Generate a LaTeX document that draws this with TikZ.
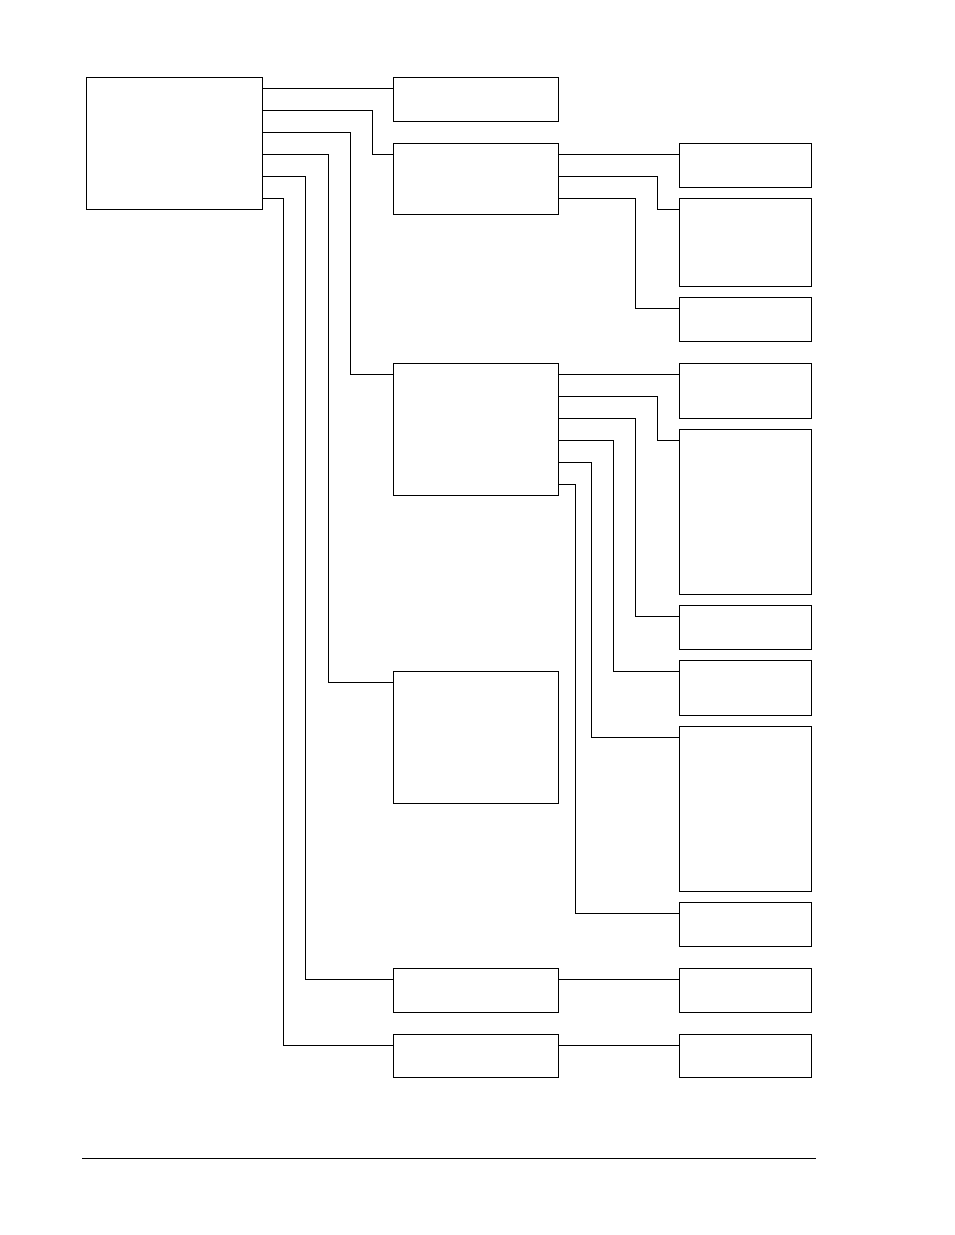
\documentclass[tikz,border=0pt]{standalone}
\usetikzlibrary{calc}
\tikzset{
  box/.style={draw=black,line width=0.9pt,inner sep=0pt,outer sep=0pt,fill=white},
  wire/.style={draw=black,line width=0.9pt,line join=miter},
}
\newcommand\bx[5]{\node[box,minimum width={(#4-#2)*1pt},minimum height={(#5-#3)*1pt}] (#1) at ({(#2+#4)/2},{(#3+#5)/2}) {};
  \coordinate (#1-in) at ($(#1.north west)+(0,11)$);
  \coordinate (#1-out) at ($(#1.north east)+(0,11)$);}
\begin{document}
\begin{tikzpicture}[x=1pt,y=-1pt]
\useasboundingbox (0,0) rectangle (954,1235);
\bx{main}{86}{77}{262}{209}
\bx{A}{393}{77}{558}{121}
\bx{B}{393}{143}{558}{214}
\bx{B1}{679}{143}{811}{187}
\bx{B2}{679}{198}{811}{286}
\bx{B3}{679}{297}{811}{341}
\bx{C}{393}{363}{558}{495}
\bx{C1}{679}{363}{811}{418}
\bx{C2}{679}{429}{811}{594}
\bx{C3}{679}{605}{811}{649}
\bx{C4}{679}{660}{811}{715}
\bx{C5}{679}{726}{811}{891}
\bx{C6}{679}{902}{811}{946}
\bx{D}{393}{671}{558}{803}
\bx{E}{393}{968}{558}{1012}
\bx{E1}{679}{968}{811}{1012}
\bx{F}{393}{1034}{558}{1077}
\bx{F1}{679}{1034}{811}{1077}
% ports
\coordinate (m2) at ($(main-out)+(0,22)$);
\coordinate (m3) at ($(main-out)+(0,44)$);
\coordinate (m4) at ($(main-out)+(0,66)$);
\coordinate (m5) at ($(main-out)+(0,88)$);
\coordinate (m6) at ($(main-out)+(0,110)$);
\coordinate (b2) at ($(B-out)+(0,22)$);
\coordinate (b3) at ($(B-out)+(0,44)$);
\coordinate (c2) at ($(C-out)+(0,22)$);
\coordinate (c3) at ($(C-out)+(0,44)$);
\coordinate (c4) at ($(C-out)+(0,66)$);
\coordinate (c5) at ($(C-out)+(0,88)$);
\coordinate (c6) at ($(C-out)+(0,110)$);
% main connectors
\draw[wire] (main-out) -- (A-in);
\draw[wire] (m2) -| ($(B-in)+(-21,0)$) -- (B-in);
\draw[wire] (m3) -| ($(C-in)+(-43,0)$) -- (C-in);
\draw[wire] (m4) -| ($(D-in)+(-65,0)$) -- (D-in);
\draw[wire] (m5) -| ($(E-in)+(-88,0)$) -- (E-in);
\draw[wire] (m6) -| ($(F-in)+(-110,0)$) -- (F-in);
% B connectors
\draw[wire] (B-out) -- (B1-in);
\draw[wire] (b2) -| ($(B2-in)+(-22,0)$) -- (B2-in);
\draw[wire] (b3) -| ($(B3-in)+(-44,0)$) -- (B3-in);
% C connectors
\draw[wire] (C-out) -- (C1-in);
\draw[wire] (c2) -| ($(C2-in)+(-22,0)$) -- (C2-in);
\draw[wire] (c3) -| ($(C3-in)+(-44,0)$) -- (C3-in);
\draw[wire] (c4) -| ($(C4-in)+(-66,0)$) -- (C4-in);
\draw[wire] (c5) -| ($(C5-in)+(-88,0)$) -- (C5-in);
\draw[wire] (c6) -| ($(C6-in)+(-104,0)$) -- (C6-in);
% E, F
\draw[wire] (E-out) -- (E1-in);
\draw[wire] (F-out) -- (F1-in);
% footer rule
\coordinate (rl) at (82,1158);
\coordinate (rr) at (816,1158);
\draw[wire] (rl) -- (rr);
\end{tikzpicture}
\end{document}
